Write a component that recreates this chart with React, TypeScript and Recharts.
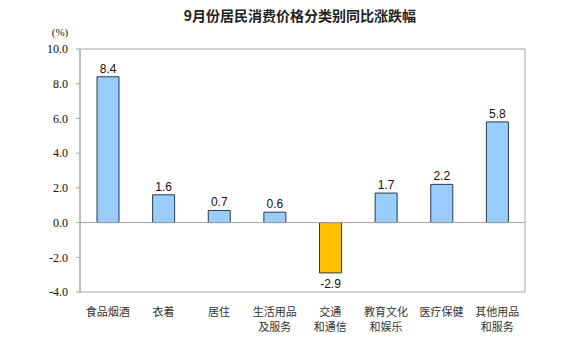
import React from 'react';
import { BarChart, Bar, XAxis, YAxis, ReferenceLine, ReferenceArea, LabelList, Cell } from 'recharts';

const categories = ['食品烟酒', '衣着', '居住', '生活用品\n及服务', '交通\n和通信', '教育文化\n和娱乐', '医疗保健', '其他用品\n和服务'];
const values = [8.4, 1.6, 0.7, 0.6, -2.9, 1.7, 2.2, 5.8];
const yTicks = [-4, -2, 0, 2, 4, 6, 8, 10];
const title = '9月份居民消费价格分类别同比涨跌幅';
const unit = '(%)';

const data = categories.map((c, i) => ({ name: c, value: values[i] }));

const CatTick = (props: any) => {
  const { x, y, payload } = props;
  const lines = String(payload.value).split('\n');
  return (
    <g>
      {lines.map((l, i) => (
        <text key={i} x={x} y={y + 16 + i * 15} textAnchor="middle" fontSize={11}
          fontFamily="'Noto Sans CJK SC', sans-serif" fill="#333">{l}</text>
      ))}
    </g>
  );
};

const BarLabel = (props: any) => {
  const { x, y, width, height, value } = props;
  const v = Number(value);
  const neg = v < 0;
  const cx = Number(x) + Number(width) / 2;
  const top = Math.min(Number(y), Number(y) + Number(height));
  const bottom = Math.max(Number(y), Number(y) + Number(height));
  const ty = neg ? bottom + 15 : top - 4;
  return (
    <text x={cx} y={ty} textAnchor="middle" fontSize={12} fontFamily="'Liberation Sans', Arial, sans-serif" fill="#111">
      {v.toFixed(1)}
    </text>
  );
};

export default function App() {
  return (
    <div style={{ position: 'absolute', left: 0, top: 0, width: 580, height: 351, background: '#fff' }}>
      <BarChart width={580} height={351} data={data} margin={{ top: 49, right: 55, bottom: 0, left: 0 }} barCategoryGap={0}>
        <text x={300} y={21} textAnchor="middle" fontSize={14} fontWeight="bold"
          fontFamily="'Noto Sans CJK SC', sans-serif" fill="#222">{title}</text>
        <text x={60} y={36} textAnchor="middle" fontSize={11}
          fontFamily="'Liberation Serif', serif" fill="#222">{unit}</text>
        <ReferenceArea y1={-4} y2={10} fill="none" stroke="#a6a6a6" strokeWidth={1} ifOverflow="extendDomain" />
        <XAxis dataKey="name" axisLine={false} tickLine={false} tick={<CatTick />} interval={0} height={59} />
        <YAxis domain={[-4, 10]} ticks={yTicks} width={80} allowDataOverflow
          tickFormatter={(v: number) => v.toFixed(1)}
          axisLine={{ stroke: '#a6a6a6' }} tickLine={{ stroke: '#a6a6a6' }} tickSize={4} tickMargin={8}
          tick={{ fontSize: 12, fill: '#111', fontFamily: "'Liberation Serif', serif" }} />
        <ReferenceLine y={0} stroke="#a6a6a6" strokeWidth={1} />
        <Bar dataKey="value" barSize={22} isAnimationActive={false} stroke="#2b3a4a" strokeWidth={1}>
          {values.map((v, i) => (
            <Cell key={i} fill={v < 0 ? '#ffc000' : '#99ccff'} />
          ))}
          <LabelList dataKey="value" content={<BarLabel />} />
        </Bar>
      </BarChart>
    </div>
  );
}
